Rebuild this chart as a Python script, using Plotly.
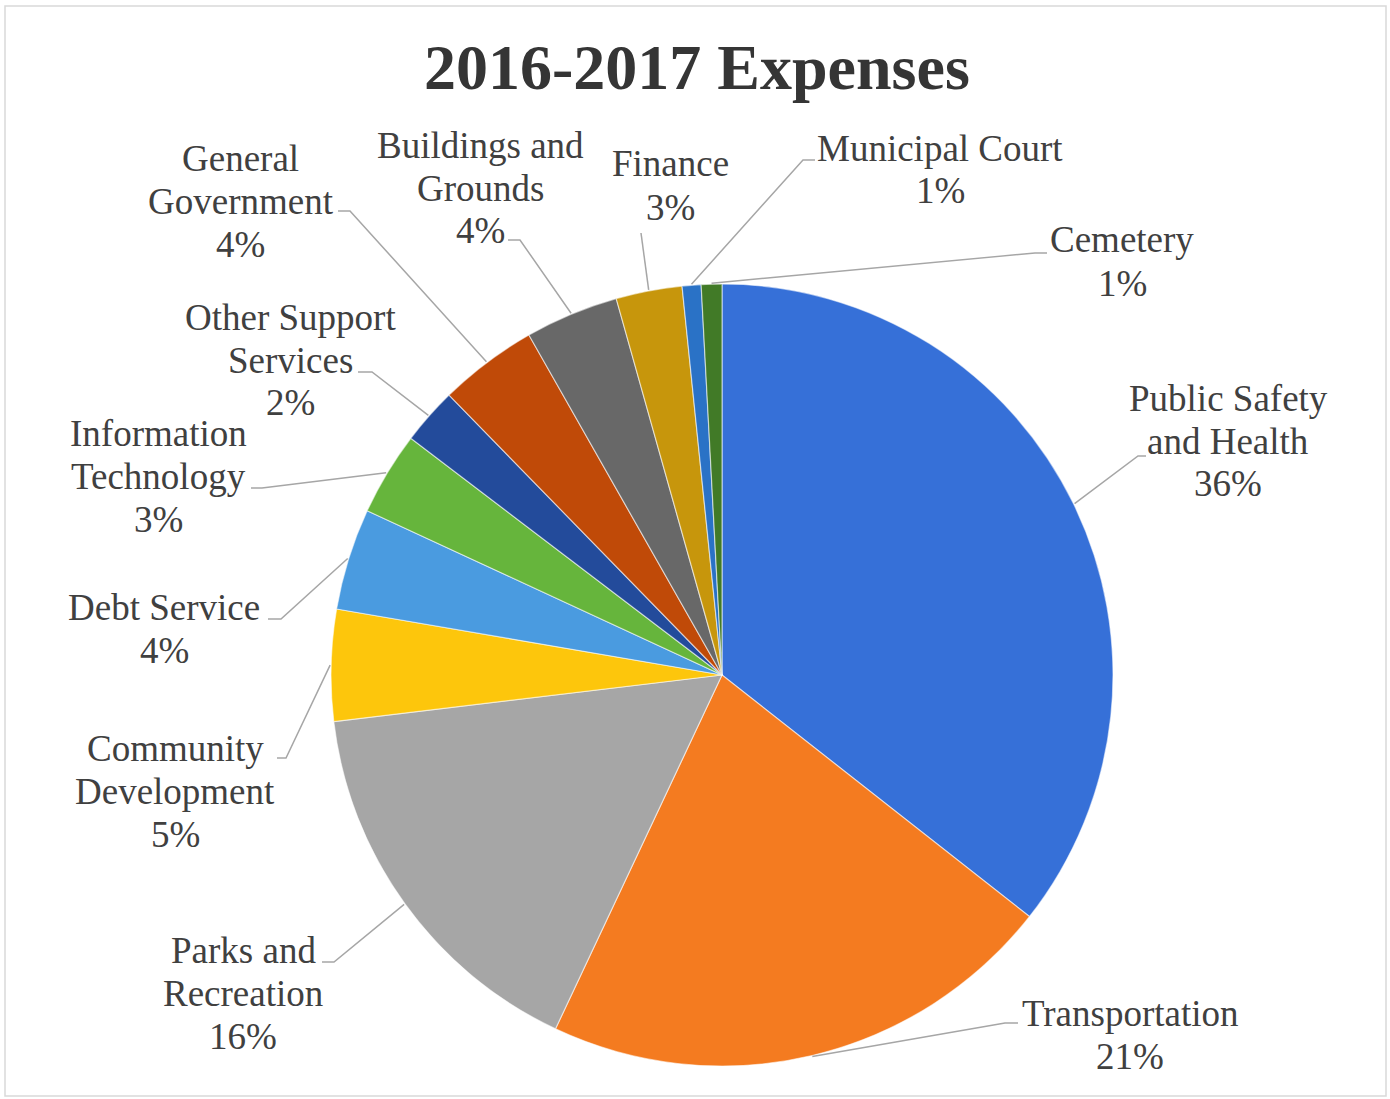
import math
import plotly.graph_objects as go

# ---------------- data ----------------
categories = ["Public Safety and Health", "Transportation", "Parks and Recreation",
              "Community Development", "Debt Service", "Information Technology",
              "Other Support Services", "General Government", "Buildings and Grounds",
              "Finance", "Municipal Court", "Cemetery"]
values = [35.6, 21.4, 16.1, 4.6, 4.2, 3.45, 2.35, 4.08, 3.86, 2.73, 0.78, 0.85]
label_lines = [["Public Safety", "and Health"], ["Transportation"], ["Parks and", "Recreation"],
               ["Community", "Development"], ["Debt Service"], ["Information", "Technology"],
               ["Other Support", "Services"], ["General", "Government"], ["Buildings and", "Grounds"],
               ["Finance"], ["Municipal Court"], ["Cemetery"]]
title_text = "2016-2017 Expenses"

# ---------------- style / layout ----------------
colors = ["#3670d8", "#f47b20", "#a6a6a6", "#fdc60c", "#4a9be0", "#66b53c",
          "#234b9b", "#c04a08", "#686868", "#c7960c", "#2a72c6", "#417a27"]
W, H = 1390, 1099
CX, CY, R = 722, 675, 391
FONT = "Liberation Serif"
TXT = "#404040"
LINE_H = 43
LS = 37

# label block position (center x, center y of first line) and leader (elbow, end) in pixels
label_layout = [
    dict(x=1228, y=398, elbow=(1138, 456), end=(1146, 456)),
    dict(x=1130, y=1013, elbow=(1005, 1023), end=(1018, 1023)),
    dict(x=243, y=950, elbow=(334, 962), end=(322, 962)),
    dict(x=175, y=748, elbow=(286, 758), end=(277, 758)),
    dict(x=164, y=607, elbow=(281, 619), end=(268, 619)),
    dict(x=158, y=433, elbow=(262, 488), end=(251, 488)),
    dict(x=290, y=317, elbow=(372, 372), end=(358, 372)),
    dict(x=241, y=158, elbow=(350, 211), end=(338, 211)),
    dict(x=480, y=145, elbow=(520, 240), end=(508, 240)),
    dict(x=670, y=164, elbow=(641, 233), end=(641, 233)),
    dict(x=940, y=148, elbow=(803, 160), end=(815, 160)),
    dict(x=1122, y=240, elbow=(1035, 253), end=(1047, 253)),
]


def px(x):
    return x / W


def py(y):
    return 1 - y / H


fig = go.Figure(go.Pie(
    labels=categories, values=values, sort=False, direction="clockwise", rotation=0,
    marker=dict(colors=colors, line=dict(color="rgba(255,255,255,0.55)", width=1.2)),
    textinfo="none", hoverinfo="label+percent", showlegend=False,
    domain=dict(x=[px(CX - R), px(CX + R)], y=[py(CY + R), py(CY - R)]),
))

total = sum(values)
annotations = []
shapes = []
cum = 0
for cat, v, lines, lay in zip(categories, values, label_lines, label_layout):
    mid = (cum + v / 2) / total * 2 * math.pi
    cum += v
    ex = CX + (R + 1) * math.sin(mid)
    ey = CY - (R + 1) * math.cos(mid)
    pct = f"{round(v / total * 100)}%"
    all_lines = lines + [pct]
    for i, t in enumerate(all_lines):
        annotations.append(dict(
            x=px(lay["x"]), y=py(lay["y"] + i * LINE_H), xref="paper", yref="paper",
            text=t, showarrow=False, xanchor="center", yanchor="middle",
            font=dict(family=FONT, size=LS, color=TXT)))
    (bx, by), (fx, fy) = lay["elbow"], lay["end"]
    shapes.append(dict(type="path", xref="paper", yref="paper",
                       path=f"M {px(ex)},{py(ey)} L {px(bx)},{py(by)} L {px(fx)},{py(fy)}",
                       line=dict(color="#a6a6a6", width=1.5)))

annotations.append(dict(x=px(697), y=py(68), xref="paper", yref="paper", text=f"<b>{title_text}</b>",
                        showarrow=False, xanchor="center", yanchor="middle",
                        font=dict(family=FONT, size=64, color="#353535")))
shapes.append(dict(type="rect", xref="paper", yref="paper", x0=px(5), x1=px(1386), y0=py(1096), y1=py(6),
                   line=dict(color="#d9d9d9", width=1.5)))

fig.update_layout(width=W, height=H, margin=dict(l=0, r=0, t=0, b=0),
                  paper_bgcolor="white", plot_bgcolor="white",
                  annotations=annotations, shapes=shapes)

fig.write_html("out.html", config={"displayModeBar": False},
               post_script="document.body.style.margin='0';document.body.style.overflow='hidden';")
